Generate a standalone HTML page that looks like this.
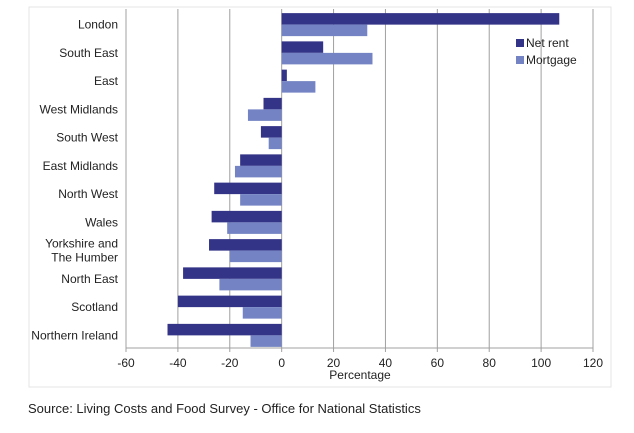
<!DOCTYPE html>
<html><head><meta charset="utf-8">
<style>
body{margin:0;background:#fff;width:634px;height:428px;overflow:hidden;font-family:"Liberation Sans",sans-serif}
svg text{font-family:"Liberation Sans",sans-serif;fill:#222}
</style></head><body>
<svg id="chart" width="634" height="428" xmlns="http://www.w3.org/2000/svg">
<rect x="29" y="7" width="582" height="380" fill="none" stroke="#e4e4e4"/>
<g id="grid"></g><g id="bars"></g><g id="labels"></g>
<g>
<rect x="516" y="39" width="8" height="8" fill="#333387"/>
<text x="526" y="47" font-size="12">Net rent</text>
<rect x="516" y="56" width="8" height="8" fill="#7383c3"/>
<text x="526" y="64" font-size="12">Mortgage</text>
</g>
<text x="360" y="379" font-size="12" text-anchor="middle">Percentage</text>
<text x="28" y="413" font-size="13">Source: Living Costs and Food Survey - Office for National Statistics</text>
</svg>
<script>
const categories=["London","South East","East","West Midlands","South West","East Midlands","North West","Wales","Yorkshire and|The Humber","North East","Scotland","Northern Ireland"];
const netRent=[107,16,2,-7,-8,-16,-26,-27,-28,-38,-40,-44];
const mortgage=[33,35,13,-13,-5,-18,-16,-21,-20,-24,-15,-12];
const xTicks=[-60,-40,-20,0,20,40,60,80,100,120];
const NS="http://www.w3.org/2000/svg";
const x0=126,x1=593,yTop=9,yBot=348;
const X=v=>x0+(v-xTicks[0])/(xTicks[xTicks.length-1]-xTicks[0])*(x1-x0);
const rowH=(yBot-yTop)/categories.length;
function mk(t,a,p){const e=document.createElementNS(NS,t);for(const k in a)e.setAttribute(k,a[k]);p.appendChild(e);return e;}
const grid=document.getElementById('grid'),bars=document.getElementById('bars'),labels=document.getElementById('labels');
xTicks.forEach(t=>{
 const l=mk('line',{x1:X(t),x2:X(t),y1:yTop,y2:yBot+4,stroke:'#a0a0a0','stroke-width':1},grid);
 
 
 const tx=mk('text',{x:X(t),y:367,'font-size':12,'text-anchor':'middle'},labels);
 tx.textContent=t;
 
 
});
const ax=mk('line',{x1:x0,x2:x1,y1:yBot,y2:yBot,stroke:'#a0a0a0'},grid);


categories.forEach((c,i)=>{
 const cy=yTop+rowH*(i+0.5);
 const bh=11.5;
 [[netRent[i],'#333387',cy-10,'bar-net-rent'],[mortgage[i],'#7383c3',cy+1.5,'bar-mortgage']].forEach(([v,col,y,n])=>{
  const r=mk('rect',{x:Math.min(X(0),X(v)),y:y,width:Math.abs(X(v)-X(0)),height:bh,fill:col},bars);
  
  
 });
 const parts=c.split('|');
 parts.forEach((p,j)=>{
  const t=mk('text',{x:118,y:cy+5.5+(j-(parts.length-1)/2)*14,'font-size':12,'text-anchor':'end'},labels);
  t.textContent=p;
  
  
 });
});
</script>
</body></html>
